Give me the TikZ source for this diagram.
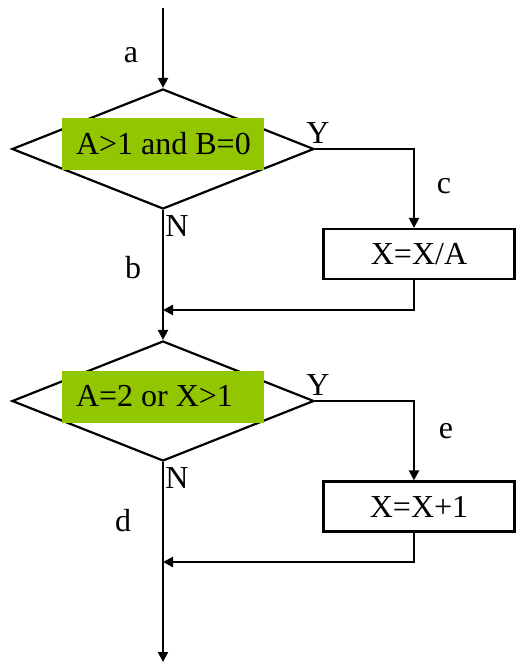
\documentclass[tikz,border=0pt]{standalone}
\usepackage{fontspec}
\setmainfont{Liberation Serif}
\usetikzlibrary{shapes.geometric,arrows.meta}
\definecolor{lgreen}{RGB}{146,198,0}
\begin{document}
\begin{tikzpicture}[x=1pt,y=-1pt,
  every node/.style={font=\fontsize{32}{36}\selectfont},
  arr/.style={line width=2.2pt,-{Triangle[length=10pt,width=10pt]}},
  decision/.style={draw,line width=2.2pt,shape=diamond,inner sep=0pt,minimum width=302pt,minimum height=120pt},
  cond/.style={fill=lgreen,inner xsep=14pt,inner ysep=0pt,minimum height=52pt},
  process/.style={draw,line width=2.2pt,inner sep=0pt,minimum width=191pt,minimum height=50pt},
  lbl/.style={inner sep=0pt}]
\useasboundingbox (0,0) rectangle (515,664);
\coordinate (start) at (163,8);
\node[decision] (d1) at (163,149) {};
\node[cond] (g1) at (163,144) {\makebox[174pt][l]{A>1 and B=0}};
\node[process] (p1) at (419,254) {X=X/A};
\coordinate (j1) at (163,310);
\node[decision] (d2) at (163,401) {};
\node[cond] (g2) at (163,396.5) {\makebox[174pt][l]{A=2 or X>1}};
\node[process] (p2) at (419,506.5) {X=X+1};
\coordinate (j2) at (163,562);
\coordinate (end) at (163,662);
% labels
\node[lbl] (la) at (131,55) {a};
\node[lbl] (lb) at (133,268) {b};
\node[lbl] (lc) at (444,186) {c};
\node[lbl] (ld) at (123,521) {d};
\node[lbl] (le) at (446,431) {e};
\node[lbl] (y1) at (318,133) {Y};
\node[lbl] (n1) at (177,226) {N};
\node[lbl] (y2) at (318,385) {Y};
\node[lbl] (n2) at (177,478) {N};
% connectors
\draw[arr] (start) -- (d1.north);
\draw[arr] (d1.east) -| ([xshift=-5pt]p1.north);
\draw[arr] ([xshift=-5pt]p1.south) |- (j1);
\draw[arr] (d1.south) -- (d2.north);
\draw[arr] (d2.east) -| ([xshift=-5pt]p2.north);
\draw[arr] ([xshift=-5pt]p2.south) |- (j2);
\draw[arr] (d2.south) -- (end);
\end{tikzpicture}
\end{document}
